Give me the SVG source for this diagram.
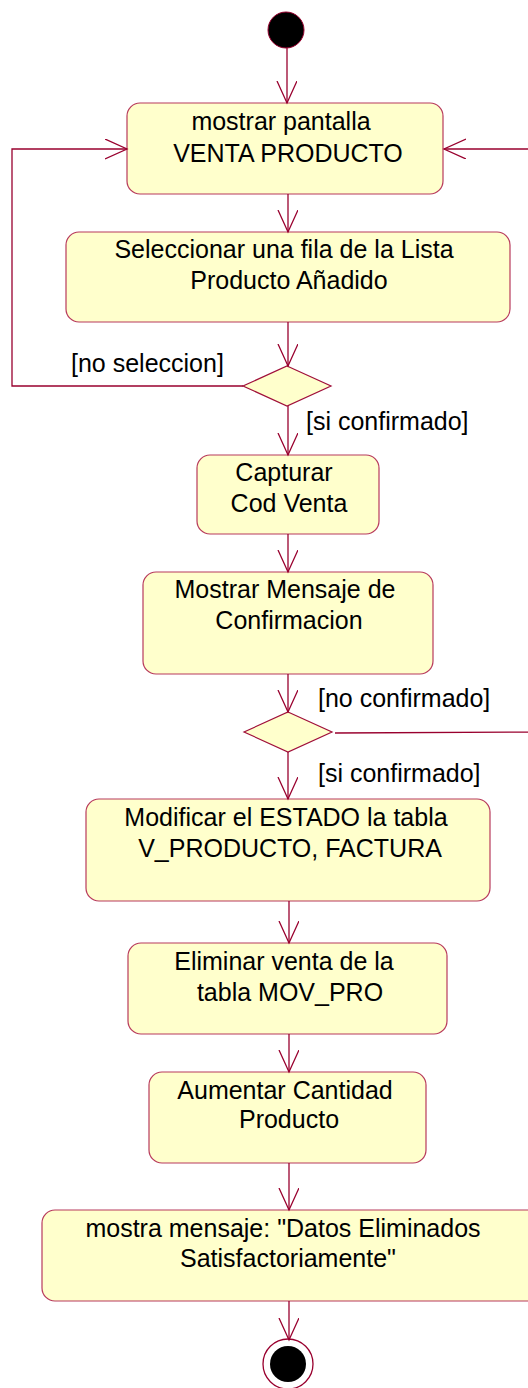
<svg xmlns="http://www.w3.org/2000/svg" width="528" height="1388" viewBox="0 0 528 1388">
<style>
.box{fill:#FFFFCC;stroke:#B83A5C;stroke-width:1.2}
.dia{fill:#FFFFCC;stroke:#A0103A;stroke-width:1.2}
.t{font-family:"Liberation Sans",Arial,sans-serif;font-size:25px;fill:#000}
.m{text-anchor:middle}
.c{fill:none;stroke:#99002E;stroke-width:1.3}
</style>
<defs>
<marker id="a" markerWidth="24" markerHeight="24" refX="22" refY="10" orient="auto" markerUnits="userSpaceOnUse">
<path d="M0,0 L22,10 L0,20" fill="none" stroke="#99002E" stroke-width="1.3"/>
</marker>
</defs>
<g id="start"><circle cx="286" cy="30" r="18" fill="#000" stroke="#99002E" stroke-width="1"/></g>
<g id="n1"><rect class="box" x="127" y="103" width="316" height="91" rx="13"/>
<text class="t m" x="281" y="130">mostrar pantalla</text><text class="t m" x="288" y="162">VENTA PRODUCTO</text></g>
<g id="n2"><rect class="box" x="66" y="232" width="444" height="90" rx="13"/>
<text class="t m" x="284" y="258">Seleccionar una fila de la Lista</text><text class="t m" x="289" y="289">Producto Añadido</text></g>
<g id="d1"><polygon class="dia" points="287,366 331,386 287,406 243,386"/></g>
<g id="n3"><rect class="box" x="197" y="455" width="182" height="79" rx="13"/>
<text class="t m" x="284" y="481">Capturar</text><text class="t m" x="289" y="512">Cod Venta</text></g>
<g id="n4"><rect class="box" x="143" y="572" width="290" height="102" rx="13"/>
<text class="t m" x="285" y="598">Mostrar Mensaje de</text><text class="t m" x="289" y="629">Confirmacion</text></g>
<g id="d2"><polygon class="dia" points="288,712 332,732 288,752 244,732"/></g>
<g id="n5"><rect class="box" x="86" y="799" width="404" height="102" rx="13"/>
<text class="t m" x="286" y="826">Modificar el ESTADO la tabla</text><text class="t m" x="290" y="857">V_PRODUCTO, FACTURA</text></g>
<g id="n6"><rect class="box" x="128" y="943" width="319" height="91" rx="13"/>
<text class="t m" x="284" y="970">Eliminar venta de la</text><text class="t m" x="290" y="1001">tabla MOV_PRO</text></g>
<g id="n7"><rect class="box" x="149" y="1072" width="277" height="91" rx="13"/>
<text class="t m" x="285" y="1099">Aumentar Cantidad</text><text class="t m" x="289" y="1128">Producto</text></g>
<g id="n8"><rect class="box" x="42" y="1210" width="500" height="91" rx="13"/>
<text class="t m" x="283" y="1237">mostra mensaje: "Datos Eliminados</text><text class="t m" x="288" y="1267">Satisfactoriamente"</text></g>
<g id="end"><circle cx="288" cy="1364" r="25" fill="#fff" stroke="#99002E" stroke-width="1.3"/><circle cx="288" cy="1364" r="18" fill="#000"/></g>
<g id="connectors">
<line class="c" x1="287" y1="48" x2="287" y2="103" marker-end="url(#a)"/>
<line class="c" x1="288" y1="194" x2="288" y2="232" marker-end="url(#a)"/>
<line class="c" x1="288" y1="322" x2="288" y2="366" marker-end="url(#a)"/>
<path class="c" d="M243,386 L12,386 L12,149 L127,149" marker-end="url(#a)"/>
<line class="c" x1="288" y1="406" x2="288" y2="455" marker-end="url(#a)"/>
<line class="c" x1="288" y1="534" x2="288" y2="572" marker-end="url(#a)"/>
<line class="c" x1="288" y1="674" x2="288" y2="712" marker-end="url(#a)"/>
<path class="c" d="M335,733 L545,732 L545,149 L444,149" marker-end="url(#a)"/>
<line class="c" x1="288" y1="752" x2="288" y2="799" marker-end="url(#a)"/>
<line class="c" x1="289" y1="901" x2="289" y2="943" marker-end="url(#a)"/>
<line class="c" x1="289" y1="1034" x2="289" y2="1072" marker-end="url(#a)"/>
<line class="c" x1="289" y1="1163" x2="289" y2="1210" marker-end="url(#a)"/>
<line class="c" x1="289" y1="1301" x2="289" y2="1340" marker-end="url(#a)"/>
<text class="t" x="71" y="372">[no seleccion]</text>
<text class="t" x="306" y="430">[si confirmado]</text>
<text class="t" x="318" y="707">[no confirmado]</text>
<text class="t" x="318" y="782">[si confirmado]</text>
</g>
</svg>
